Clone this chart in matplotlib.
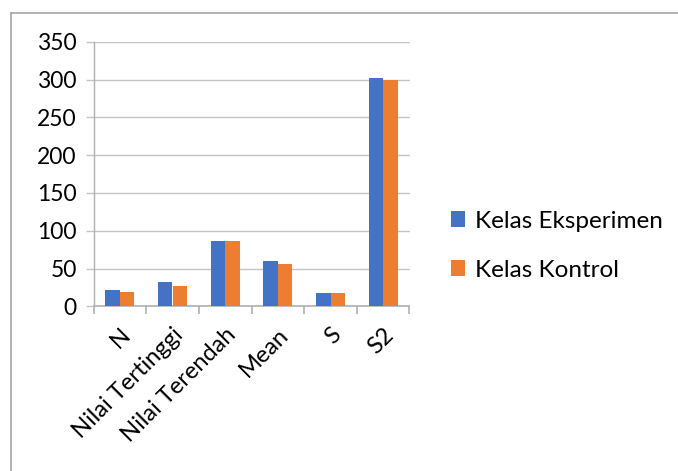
import matplotlib
matplotlib.use("Agg")
import matplotlib.pyplot as plt
from matplotlib.lines import Line2D
import numpy as np

categories = ["N", "Nilai Tertinggi", "Nilai Terendah", "Mean", "S", "S2"]
eksperimen = [21, 32.5, 86.5, 60, 17.5, 302]
kontrol = [19.5, 26.5, 86.5, 56, 17.5, 300]
series_names = ["Kelas Eksperimen", "Kelas Kontrol"]
yticks = [0, 50, 100, 150, 200, 250, 300, 350]

plt.rcParams['font.family'] = ['Lato', 'DejaVu Sans']

W, H = 678, 471
fig = plt.figure(figsize=(W / 100, H / 100), dpi=100)
ax = fig.add_axes([93.5 / W, 1 - 306.3 / H, (409.5 - 93.5) / W, (306.3 - 41.7) / H])

x = np.arange(len(categories))
bw = 0.275
ax.bar(x - bw / 2, eksperimen, bw, color="#4472C4", label=series_names[0], zorder=3)
ax.bar(x + bw / 2, kontrol, bw, color="#ED7D31", label=series_names[1], zorder=3)

ax.set_xlim(-0.5, len(categories) - 0.5)
ax.set_ylim(0, 350)
ax.set_yticks(yticks)
ax.set_yticklabels([str(v) for v in yticks], fontsize=16.5, color="#000000")
ax.yaxis.grid(True, color="#c4c4c4", linewidth=1, zorder=0)
ax.tick_params(axis='y', length=6, color="#c4c4c4", width=1, pad=6)

ax.set_xticks(x)
ax.set_xticklabels(categories, rotation=45, ha='right', va='top',
                   rotation_mode='anchor', fontsize=17)
ax.tick_params(axis='x', which='major', length=0, pad=13)
ax.set_xticks(np.arange(-0.5, len(categories)), minor=True)
ax.tick_params(axis='x', which='minor', length=5.5, color="#b0b0b0", width=1.2)

for s in ['top', 'right']:
    ax.spines[s].set_visible(False)
ax.spines['left'].set_color("#b0b0b0")
ax.spines['bottom'].set_color("#b0b0b0")
ax.spines['bottom'].set_linewidth(1.2)
ax.spines['left'].set_linewidth(1)

leg = fig.legend(loc='upper left', bbox_to_anchor=(441 / W, 1 - 201 / H),
                 frameon=False, fontsize=17.5, handlelength=0.6, handleheight=0.6,
                 handletextpad=0.4, labelspacing=1.15, borderaxespad=0)

# outer chart border (top and left visible)
fig.add_artist(Line2D([10.5 / W, 1.0], [1 - 12.5 / H, 1 - 12.5 / H],
                      transform=fig.transFigure, color="#a6a6a6", linewidth=1.2))
fig.add_artist(Line2D([10.5 / W, 10.5 / W], [0, 1 - 12.5 / H],
                      transform=fig.transFigure, color="#a6a6a6", linewidth=1.2))

fig.savefig("out.png", dpi=100)
